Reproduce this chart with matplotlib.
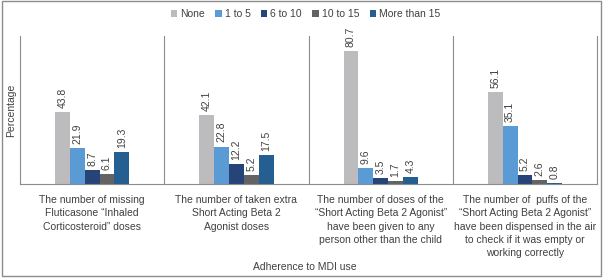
import numpy as np
import matplotlib
matplotlib.use("Agg")
import matplotlib.pyplot as plt
from matplotlib.patches import Rectangle

plt.rcParams["font.family"] = ["Liberation Sans", "DejaVu Sans"]

categories = [
    "The number of missing\nFluticasone \u201cInhaled\nCorticosteroid\u201d doses",
    "The number of taken extra\nShort Acting Beta 2\nAgonist doses",
    "The number of doses of the\n\u201cShort Acting Beta 2 Agonist\u201d\nhave been given to any\nperson other than the child",
    "The number of  puffs of the\n\u201cShort Acting Beta 2 Agonist\u201d\nhave been dispensed in the air\nto check if it was empty or\nworking correctly",
]
series_names = ["None", "1 to 5", "6 to 10", "10 to 15", "More than 15"]
none_vals = [43.8, 42.1, 80.7, 56.1]
one_to_five = [21.9, 22.8, 9.6, 35.1]
six_to_ten = [8.7, 12.2, 3.5, 5.2]
ten_to_fifteen = [6.1, 5.2, 1.7, 2.6]
more_than_15 = [19.3, 17.5, 4.3, 0.8]
colors = ["#BCBCBE", "#5B9BD5", "#264478", "#636363", "#255E91"]

series = [none_vals, one_to_five, six_to_ten, ten_to_fifteen, more_than_15]

fig = plt.figure(figsize=(6.05, 2.79), dpi=100)
ax = fig.add_axes([0.033, 0.3405, 0.954, 0.53])

x = np.arange(len(categories))
w = 0.103
text_col = "#404040"
for i, (vals, name, c) in enumerate(zip(series, series_names, colors)):
    pos = x + (i - 2) * w
    bars = ax.bar(pos, vals, width=w, color=c, label=name)
    for b, v in zip(bars, vals):
        ax.text(b.get_x() + b.get_width() / 2, v + 2.5, f"{v:.1f}",
                rotation=90, ha="center", va="bottom", fontsize=7.5, color=text_col)

ax.set_xlim(-0.5, len(categories) - 0.5)
ax.set_ylim(0, 90)
ax.set_yticks([])
ax.set_xticks(x)
ax.set_xticklabels(categories, fontsize=7.5, color=text_col, linespacing=1.4)
ax.tick_params(axis="x", length=0, pad=8)
ax.spines["top"].set_visible(False)
for s in ["left", "right", "bottom"]:
    ax.spines[s].set_color("#8C8C8C")
    ax.spines[s].set_linewidth(0.8)
for sep in x[:-1] + 0.5:
    ax.axvline(sep, color="#8C8C8C", linewidth=0.8)

ax.set_ylabel("Percentage", fontsize=7.5, color=text_col, labelpad=3)
fig.text(0.504, 0.043, "Adherence to MDI use", ha="center", va="center",
         fontsize=7.5, color=text_col)

fig.legend(loc="center", bbox_to_anchor=(0.505, 0.95), ncol=5, frameon=False,
           fontsize=7.5, handlelength=0.6, handleheight=0.6, handletextpad=0.3,
           columnspacing=1.0, labelcolor=text_col)

fig.add_artist(Rectangle((0.003, 0.012), 0.991, 0.983, transform=fig.transFigure,
                         fill=False, edgecolor="#8C8C8C", linewidth=1))

plt.savefig("out.png", dpi=100)
